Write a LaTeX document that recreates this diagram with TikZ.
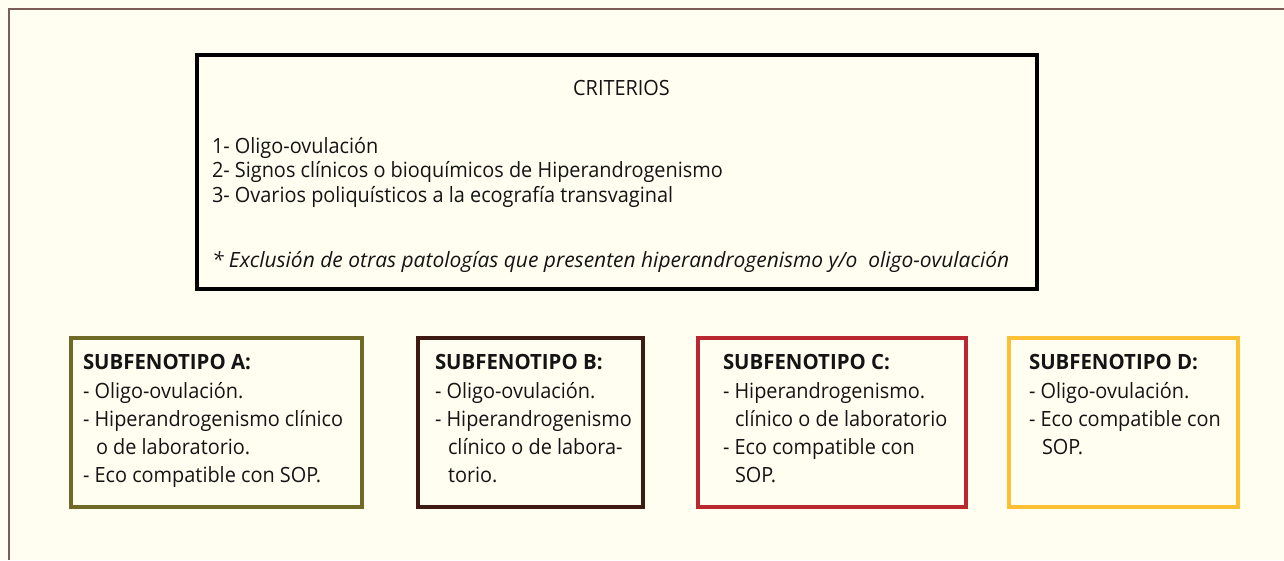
\documentclass[tikz,border=0pt]{standalone}
\usepackage{fontspec}
\usepackage{xfp}
\newfontfamily\probefont{Open Sans}
\newlength\probew
\newlength\probeiw
\newlength\probebw
\settowidth\probew{\probefont\fontsize{21pt}{24pt}\selectfont 3- Ovarios poliquísticos a la ecografía transvaginal}
\settowidth\probeiw{\probefont\itshape\fontsize{21pt}{24pt}\selectfont * Exclusión de otras patologías que presenten hiperandrogenismo y/o\ \ oligo-ovulación}
\settowidth\probebw{\probefont\bfseries\fontsize{21pt}{24pt}\selectfont SUBFENOTIPO A:}
\makeatletter
\edef\stretchratio{\fpeval{round(461/\strip@pt\probew,3)}}
\edef\itratio{\fpeval{round(797/\strip@pt\probeiw,3)}}
\edef\bfratio{\fpeval{round(168/\strip@pt\probebw,3)}}
\makeatother
\edef\tmpsetfont{\noexpand\setmainfont[FakeStretch=\stretchratio]{Open Sans}}
\tmpsetfont
\edef\tmpsetfont{\noexpand\newfontfamily\noexpand\exclfont[FakeStretch=\itratio]{Open Sans}}
\tmpsetfont
\edef\tmpsetfont{\noexpand\newfontfamily\noexpand\headfont[FakeStretch=\bfratio]{Open Sans}}
\tmpsetfont
\definecolor{bgcream}{HTML}{FFFEF1}
\definecolor{framebrown}{HTML}{7A5E55}
\definecolor{colA}{HTML}{6F6A26}
\definecolor{colB}{HTML}{3E1A12}
\definecolor{colC}{HTML}{B9282F}
\definecolor{colD}{HTML}{FBC033}
\begin{document}
\begin{tikzpicture}[x=1pt,y=-1pt,
  txt/.style={anchor=base west,inner sep=0pt,outer sep=0pt,font=\fontsize{21pt}{24pt}\selectfont,text=black!92},
  head/.style={txt,font=\headfont\bfseries\fontsize{21pt}{24pt}\selectfont},
  excl/.style={txt,font=\exclfont\itshape\fontsize{21pt}{24pt}\selectfont},
  subbox/.style={line width=4pt},
  mainbox/.style={draw=black,line width=4pt}]
\fill[bgcream] (0,0) rectangle (1284,560);
\useasboundingbox (0,0) rectangle (1284,560);
% outer frame
\draw[framebrown,line width=2pt] (1284,9) -- (9,9) -- (9,560);
% main criteria box
\draw[mainbox] (197,54.5) rectangle (1037,289);
\node[txt,anchor=base] (crit) at (621.5,95) {CRITERIOS};
\node[txt] (c1) at (212,153.3) {1- Oligo-ovulación};
\node[txt] (c2) at (212,177.7) {2- Signos clínicos o bioquímicos de Hiperandrogenismo};
\node[txt] (c3) at (212,202) {3- Ovarios poliquísticos a la ecografía transvaginal};
\node[excl] (c4) at (212,267) {* Exclusión de otras patologías que presenten hiperandrogenismo y/o\ \ oligo-ovulación};
% subfenotipo A
\draw[subbox,colA] (71.3,338) rectangle (362,507);
\node[head] (a0) at (83,369) {SUBFENOTIPO A:};
\node[txt] (a1) at (83,398) {- Oligo-ovulación.};
\node[txt] (a2) at (83,426) {- Hiperandrogenismo clínico};
\node[txt] (a3) at (96,454) {o de laboratorio.};
\node[txt] (a4) at (83,482) {- Eco compatible con SOP.};
% subfenotipo B
\draw[subbox,colB] (418,338) rectangle (643,507);
\node[head] (b0) at (435,369) {SUBFENOTIPO B:};
\node[txt] (b1) at (435,398) {- Oligo-ovulación.};
\node[txt] (b2) at (435,426) {- Hiperandrogenismo};
\node[txt] (b3) at (448,454) {clínico o de labora-};
\node[txt] (b4) at (448,482) {torio.};
% subfenotipo C
\draw[subbox,colC] (698,338) rectangle (966,507);
\node[head] (cc0) at (723,369) {SUBFENOTIPO C:};
\node[txt] (cc1) at (723,398) {- Hiperandrogenismo.};
\node[txt] (cc2) at (735,426) {clínico o de laboratorio};
\node[txt] (cc3) at (723,454) {- Eco compatible con};
\node[txt] (cc4) at (735,482) {SOP.};
% subfenotipo D
\draw[subbox,colD] (1009,338) rectangle (1238,507);
\node[head] (d0) at (1029,369) {SUBFENOTIPO D:};
\node[txt] (d1) at (1029,398) {- Oligo-ovulación.};
\node[txt] (d2) at (1029,426) {- Eco compatible con};
\node[txt] (d3) at (1042,454) {SOP.};
\end{tikzpicture}
\end{document}
